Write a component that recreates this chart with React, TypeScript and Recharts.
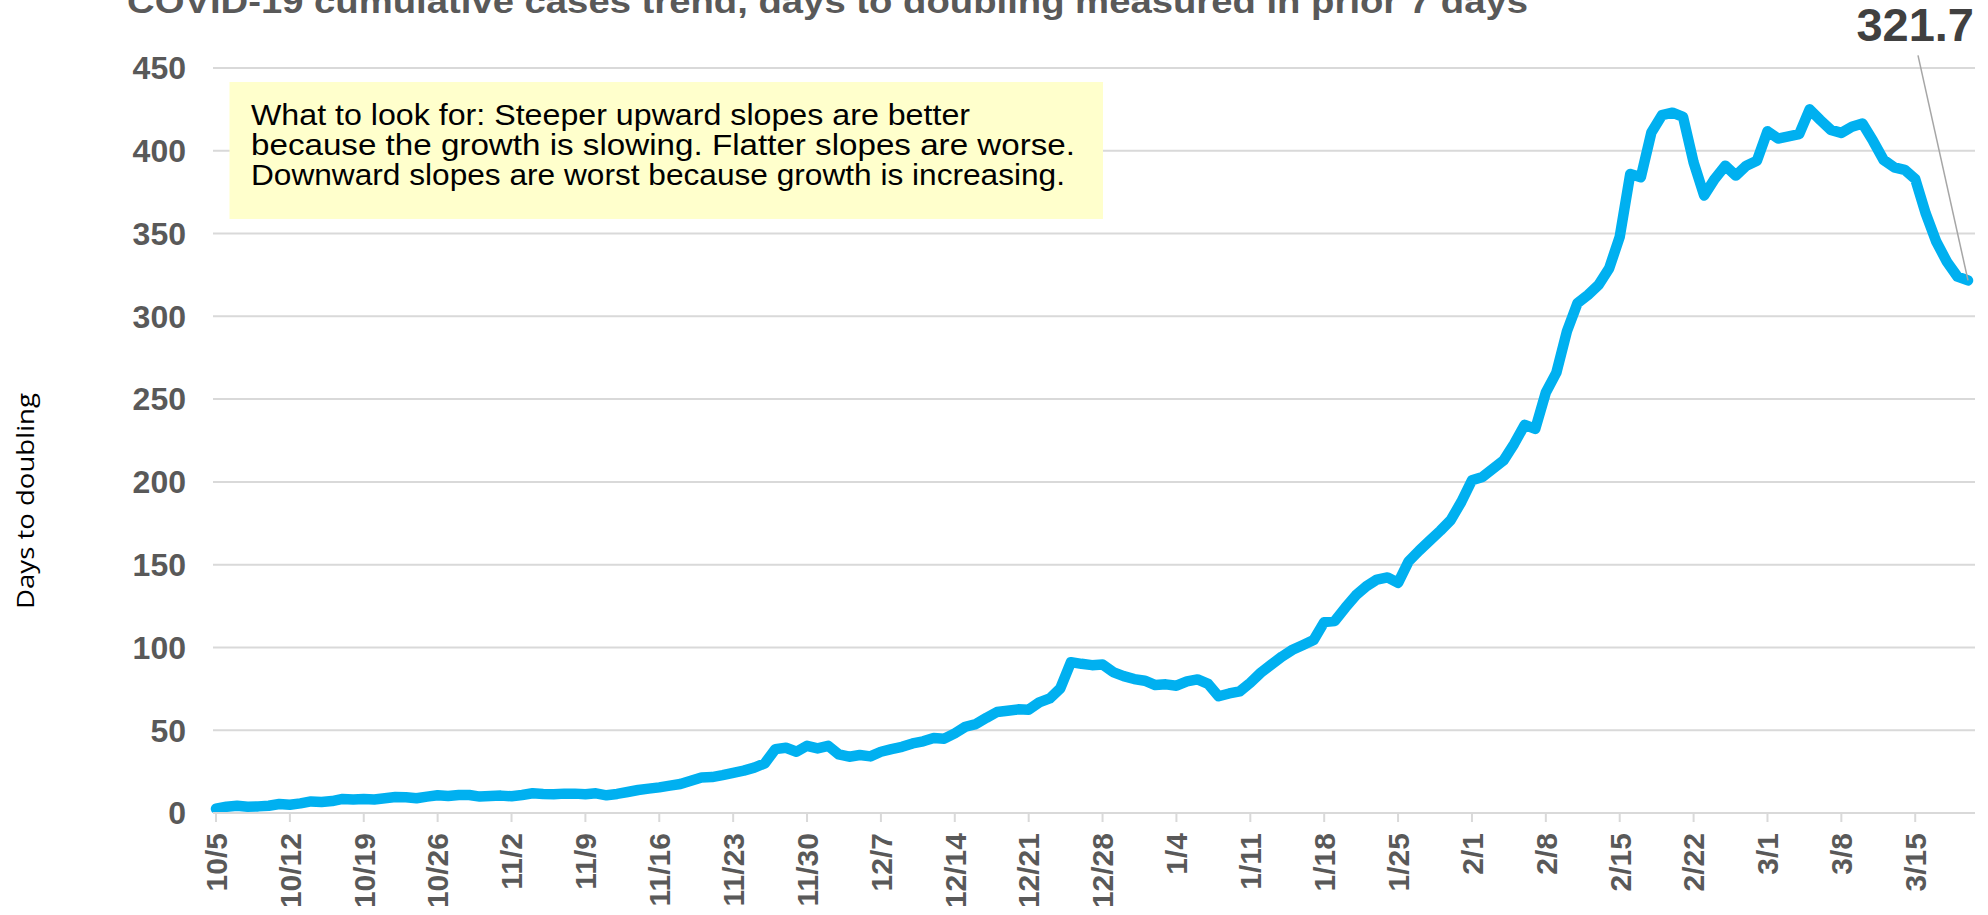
import React from "react";
import { LineChart, Line, XAxis, YAxis, CartesianGrid } from "recharts";

// days to doubling, one value per day from 10/5 to 3/20
const doublingDays = [
  2.6, 3.8, 4.4, 3.8, 4.0, 4.4, 5.4, 5.0, 5.8, 7.0,
  6.6, 7.2, 8.5, 8.2, 8.5, 8.2, 8.9, 9.7, 9.5, 8.9,
  9.9, 10.7, 10.3, 10.9, 10.9, 9.9, 10.3, 10.5, 10.1, 10.9,
  11.9, 11.5, 11.3, 11.7, 11.7, 11.3, 11.9, 10.7, 11.5, 12.7,
  13.9, 14.7, 15.5, 16.5, 17.5, 19.5, 21.5, 21.7, 22.9, 24.3,
  25.6, 27.4, 30.0, 38.6, 39.4, 37.0, 40.6, 39.0, 40.6, 35.4,
  34.0, 35.0, 34.2, 37.0, 38.6, 40.0, 42.0, 43.3, 45.3, 44.9,
  48.1, 52.1, 53.7, 57.5, 61.0, 61.8, 62.6, 62.4, 66.8, 69.2,
  75.3, 91.1, 90.1, 89.3, 89.7, 85.1, 82.7, 80.9, 79.9, 77.3,
  77.7, 76.9, 79.5, 80.7, 78.0, 70.5, 72.2, 73.5, 78.7, 84.8,
  89.7, 94.5, 98.6, 101.5, 104.5, 115.3, 116.0, 124.0, 131.5, 137.0,
  141.0, 142.3, 139.0, 152.0, 158.5, 164.5, 170.5, 177.0, 188.0, 201.0,
  203.0, 208.0, 213.0, 223.0, 234.5, 232.0, 254.0, 266.0, 291.0, 308.0,
  313.0, 319.0, 329.0, 348.0, 386.0, 384.0, 411.0, 421.5, 423.0, 420.5,
  393.0, 373.0, 383.0, 391.0, 385.0, 391.0, 394.0, 411.8, 407.4, 408.7,
  410.0, 425.0, 418.6, 412.6, 410.8, 414.5, 416.5, 406.0, 394.5, 390.0,
  388.5, 383.0, 362.0, 345.0, 333.0, 324.0, 321.7,
];

// category labels: calendar days starting 10/5/2020
const dates = doublingDays.map((_, i) => {
  const d = new Date(2020, 9, 5 + i);
  return `${d.getMonth() + 1}/${d.getDate()}`;
});

const yTicks = [0, 50, 100, 150, 200, 250, 300, 350, 400, 450];

const title = "COVID-19 cumulative cases trend, days to doubling measured in prior 7 days";
const noteLines = [
  "What to look for: Steeper upward slopes are better",
  "because the growth is slowing. Flatter slopes are worse.",
  "Downward slopes are worst because growth is increasing.",
];
const noteWidths = [719, 824, 814];

const data = dates.map((date, i) => ({ date, days: doublingDays[i] }));

const FONT = "'Liberation Sans', Arial, sans-serif";
const GREY = "#595959";

function DateTick({ x, y, payload }: any) {
  return (
    <text
      x={x}
      y={y}
      transform={`rotate(-90, ${x}, ${y})`}
      textAnchor="end"
      dy="0.36em"
      fill={GREY}
      fontSize={30}
      fontWeight="bold"
      fontFamily={FONT}
    >
      {payload.value}
    </text>
  );
}

function EndLabel(props: any) {
  const { x, y, index, value } = props;
  if (index !== doublingDays.length - 1) return <g />;
  return (
    <g>
      <line x1={x - 50} y1={y - 225} x2={x} y2={y} stroke="#A6A6A6" strokeWidth={1.5} />
      <text x={x + 6} y={y - 239} textAnchor="end" fill="#404040" fontSize={47} fontWeight="bold" fontFamily={FONT}>
        {Number(value).toFixed(1)}
      </text>
    </g>
  );
}

export default function App() {
  return (
    <div style={{ position: "absolute", left: 0, top: 0, width: 1988, height: 915, background: "#fff" }}>
      <LineChart width={1988} height={915} data={data} margin={{ top: 68, right: 13, bottom: 0, left: 0 }}>
        <CartesianGrid vertical={false} stroke="#D9D9D9" strokeWidth={2} />
        <XAxis
          dataKey="date"
          interval={6}
          padding={{ left: 3, right: 7 }}
          height={102}
          tickSize={9}
          tickMargin={11}
          axisLine={{ stroke: "#D9D9D9", strokeWidth: 2 }}
          tickLine={{ stroke: "#D9D9D9", strokeWidth: 2 }}
          tick={<DateTick />}
        />
        <YAxis
          domain={[0, 450]}
          ticks={yTicks}
          interval={0}
          width={213}
          axisLine={false}
          tickLine={false}
          tickSize={0}
          tickMargin={27}
          tick={{ fill: GREY, fontSize: 32, fontWeight: "bold", fontFamily: FONT }}
        />
        <Line
          type="linear"
          dataKey="days"
          stroke="#00B0F0"
          strokeWidth={10.5}
          strokeLinejoin="round"
          strokeLinecap="round"
          dot={false}
          isAnimationActive={false}
          label={<EndLabel />}
        />
      </LineChart>
      <svg width={1988} height={915} style={{ position: "absolute", left: 0, top: 0, pointerEvents: "none" }}>
        <text x={127} y={13} fill={GREY} fontSize={34} fontWeight="bold" fontFamily={FONT} textLength={1401} lengthAdjust="spacingAndGlyphs">
          {title}
        </text>
        <rect x={229.5} y={82} width={873.5} height={137} fill="#FFFFCC" />
        {noteLines.map((line, i) => (
          <text key={i} x={251} y={125 + i * 30} fill="#000" fontSize={29} fontFamily={FONT} textLength={noteWidths[i]} lengthAdjust="spacingAndGlyphs">
            {line}
          </text>
        ))}
        <text
          x={25}
          y={501}
          transform="rotate(-90, 25, 501)"
          textAnchor="middle"
          dominantBaseline="central"
          fill="#000"
          fontSize={23}
          fontFamily="'Open Sans', sans-serif"
          textLength={216}
          lengthAdjust="spacingAndGlyphs"
        >
          Days to doubling
        </text>
      </svg>
    </div>
  );
}
